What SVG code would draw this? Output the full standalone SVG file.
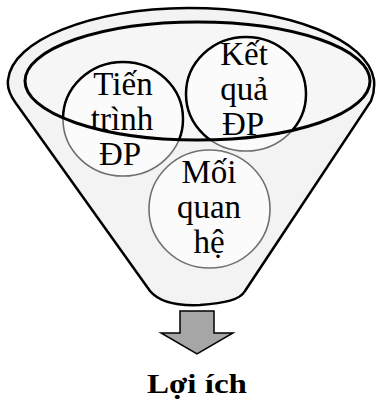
<svg xmlns="http://www.w3.org/2000/svg" width="376" height="403" viewBox="0 0 376 403">
<style>
.lbl{font-family:"Liberation Serif","Times New Roman",serif;font-size:33px;fill:#000;text-anchor:middle}
.ttl{font-family:"Liberation Serif","Times New Roman",serif;font-size:28px;font-weight:bold;fill:#000;text-anchor:middle}
.cg{fill:#fbfbfb;stroke:#6f6f6f;stroke-width:1.6}
.cb{fill:none;stroke:#000;stroke-width:2.5}
</style>
<defs>
<clipPath id="inner"><ellipse cx="197.5" cy="81" rx="172.5" ry="59"/></clipPath>
</defs>
<rect width="376" height="403" fill="#fff"/>
<g id="funnel">
<path d="M150,291 L15,102 C10,95 7,88 8,80 C12,40 90,9 188,8 C290,8 368,40 374,80 C375,90 373,96 371,101 L245,291 C240,300 225,303 200,305 C178,306 160,303 150,291 Z" fill="#f3f3f3" stroke="#000" stroke-width="2.5"/>
<ellipse cx="197.5" cy="81" rx="172.5" ry="59" fill="#f6f6f6" stroke="none"/>
</g>
<g id="tien-trinh">
<ellipse class="cg" cx="123" cy="119" rx="60" ry="57"/>
</g>
<g id="ket-qua">
<ellipse class="cg" cx="246" cy="94" rx="60" ry="57"/>
</g>
<g id="moi-quan-he">
<ellipse class="cg" cx="209.5" cy="209" rx="60.5" ry="59"/>
<text class="lbl" x="209" y="183">Mối</text>
<text class="lbl" x="209" y="218">quan</text>
<text class="lbl" x="209" y="253">hệ</text>
</g>
<g id="rim">
<g clip-path="url(#inner)">
<ellipse class="cb" cx="123" cy="119" rx="60" ry="57"/>
<ellipse class="cb" cx="246" cy="94" rx="60" ry="57"/>
</g>
<ellipse cx="197.5" cy="81" rx="172.5" ry="59" fill="none" stroke="#000" stroke-width="3"/>
</g>
<g id="labels-top">
<text class="lbl" x="123" y="95">Tiến</text>
<text class="lbl" x="122" y="130">trình</text>
<text class="lbl" x="120" y="165">ĐP</text>
<text class="lbl" x="244" y="65">Kết</text>
<text class="lbl" x="244" y="100">quả</text>
<text class="lbl" x="243" y="135">ĐP</text>
</g>
<g id="connectors">
<path d="M180,311 H214 V333 H233 L197,354 L161,333 H180 Z" fill="#a6a6a6" stroke="#000" stroke-width="1.5" stroke-linejoin="miter"/>
</g>
<g id="loi-ich">
<text class="ttl" x="197" y="393" textLength="100" lengthAdjust="spacingAndGlyphs">Lợi ích</text>
</g>
</svg>
